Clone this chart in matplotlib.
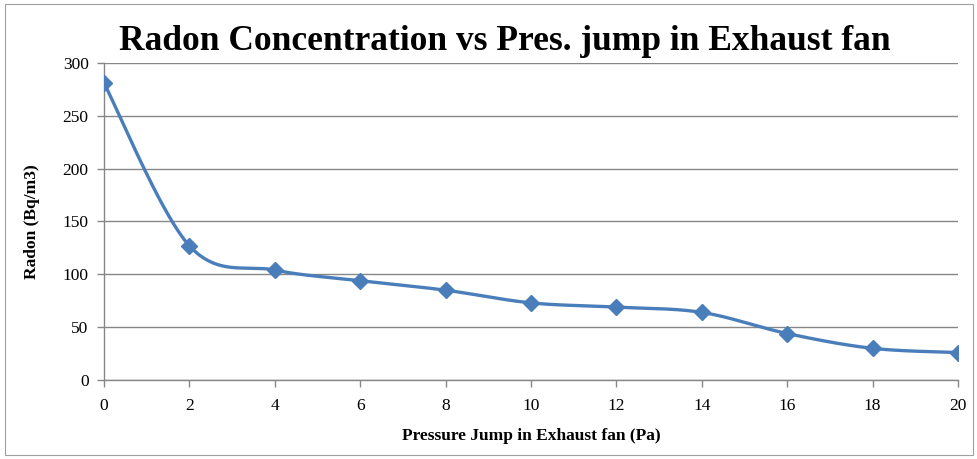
import numpy as np
import matplotlib.pyplot as plt
from matplotlib.patches import Rectangle

# values
pressure = [0, 2, 4, 6, 8, 10, 12, 14, 16, 18, 20]
radon = [281, 127, 104, 94, 85, 73, 69, 64, 44, 30, 26]
x_ticks = list(range(0, 21, 2))
y_ticks = [0, 50, 100, 150, 200, 250, 300]

blue = '#4A7EBB'
grey = '#878787'


def smooth_line(xs, ys, n=40):
    # Excel-style smoothed line: cubic Bezier segments, Catmull-Rom control points
    p = np.column_stack([xs, ys]).astype(float)
    p = np.vstack([p[0], p, p[-1]])
    out = []
    t = np.linspace(0, 1, n)[:, None]
    for i in range(1, len(p) - 2):
        p0, p1, p2, p3 = p[i - 1], p[i], p[i + 1], p[i + 2]
        c1 = p1 + (p2 - p0) / 6
        c2 = p2 - (p3 - p1) / 6
        seg = ((1 - t) ** 3) * p1 + 3 * ((1 - t) ** 2) * t * c1 + 3 * (1 - t) * t ** 2 * c2 + t ** 3 * p2
        out.append(seg)
    out = np.vstack(out)
    return out[:, 0], out[:, 1]


fig = plt.figure(figsize=(9.78, 4.59), dpi=100)
fig.patches.append(Rectangle((0.005, 0.008), 0.99, 0.984, transform=fig.transFigure,
                             fill=False, edgecolor='#A0A0A0', linewidth=0.8))
ax = fig.add_axes([0.1063, 0.172, 0.8733, 0.691])

sx, sy = smooth_line(pressure, radon)
ax.plot(sx, sy, color=blue, linewidth=2.4, solid_capstyle='round', zorder=3)
ax.plot(pressure, radon, linestyle='none', marker='D', markersize=8,
        color=blue, markeredgecolor=blue, zorder=4)

ax.set_xlim(0, 20)
ax.set_ylim(0, 300)
ax.set_xticks(x_ticks)
ax.set_yticks(y_ticks)
ax.yaxis.grid(True, color=grey, linewidth=1)
ax.set_axisbelow(True)
for s in ['top', 'right']:
    ax.spines[s].set_visible(False)
for s in ['left', 'bottom']:
    ax.spines[s].set_color(grey)
    ax.spines[s].set_linewidth(1)
ax.tick_params(axis='both', colors=grey, length=5, width=1, direction='out',
               labelcolor='black', labelsize=12.5)
ax.tick_params(axis='x', pad=8)
ax.tick_params(axis='y', pad=6)
for lab in ax.get_xticklabels() + ax.get_yticklabels():
    lab.set_family('Liberation Serif')

fig.text(505 / 978, 1 - 42 / 459, 'Radon Concentration vs Pres. jump in Exhaust fan',
         family='Liberation Serif', fontweight='bold', fontsize=25.5, ha='center', va='center')
ax.set_xlabel('Pressure Jump in Exhaust fan (Pa)', family='Liberation Serif',
              fontweight='bold', fontsize=12.5, labelpad=10)
ax.set_ylabel('Radon (Bq/m3)', family='Liberation Serif', fontweight='bold',
              fontsize=12.5, labelpad=16)

fig.savefig('out.png', dpi=100)
